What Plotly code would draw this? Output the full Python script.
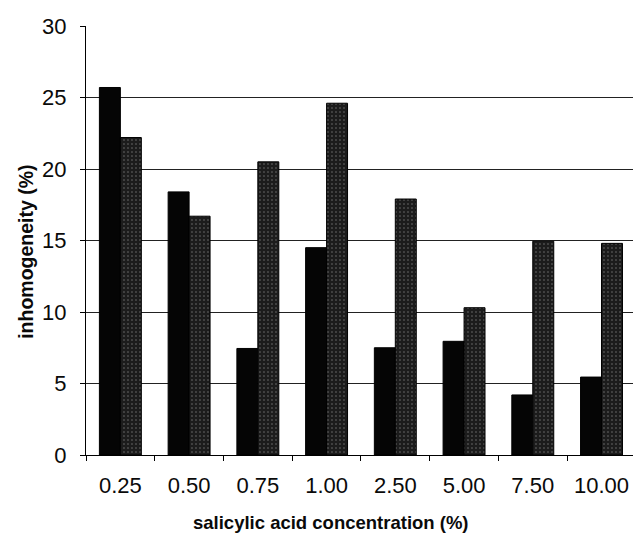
import plotly.graph_objects as go

# Salicylic acid concentration categories and measured inhomogeneity (%)
concentrations = ["0.25", "0.50", "0.75", "1.00", "2.50", "5.00", "7.50", "10.00"]
series_a = [25.7, 18.4, 7.45, 14.5, 7.5, 7.95, 4.2, 5.45]
series_b = [22.2, 16.7, 20.5, 24.6, 17.9, 10.3, 14.95, 14.8]
y_ticks = [0, 5, 10, 15, 20, 25, 30]

FONT = "Liberation Sans, Arial, sans-serif"

fig = go.Figure()
fig.add_trace(go.Bar(
    x=concentrations, y=series_a,
    marker=dict(color="#050505", line=dict(color="#000000", width=1)),
    showlegend=False,
))
fig.add_trace(go.Bar(
    x=concentrations, y=series_b,
    marker=dict(
        color="#1c1c1c",
        line=dict(color="#000000", width=1),
        pattern=dict(shape=".", fgcolor="#c8c8c8", bgcolor="#1c1c1c",
                     size=4, solidity=0.12, fillmode="overlay"),
    ),
    showlegend=False,
))

fig.update_layout(
    width=633, height=538,
    margin=dict(l=85.5, r=0, t=26, b=83),
    paper_bgcolor="white", plot_bgcolor="white",
    barmode="group", bargap=0.39, bargroupgap=0,
    font=dict(family=FONT, color="#0a0a0a"),
    xaxis=dict(
        type="category",
        range=[-0.5, 7.458],
        tickson="boundaries",
        ticks="outside", ticklen=5, tickcolor="#000000",
        showline=True, linecolor="#000000", linewidth=1,
        showgrid=False,
        tickfont=dict(size=22, family=FONT, color="#0a0a0a"),
        ticklabelstandoff=11,
    ),
    yaxis=dict(
        range=[0, 30],
        tickvals=y_ticks,
        ticks="outside", ticklen=5, tickcolor="#000000",
        showline=True, linecolor="#000000", linewidth=1,
        showgrid=True, gridcolor="#222222", gridwidth=1,
        zeroline=False,
        tickfont=dict(size=22, family=FONT, color="#0a0a0a"),
        ticklabelstandoff=9,
    ),
    annotations=[
        dict(text="<b>salicylic acid concentration (%)</b>",
             xref="paper", yref="paper", x=(331 - 85.5) / 547.5, y=-0.158,
             xanchor="center", yanchor="middle", showarrow=False,
             font=dict(size=18.5, family=FONT, color="#0a0a0a")),
        dict(text="<b>inhomogeneity (%)</b>",
             xref="paper", yref="paper", x=-0.11, y=(455 - 252) / 429,
             xanchor="center", yanchor="middle", showarrow=False, textangle=-90,
             font=dict(size=19.5, family=FONT, color="#0a0a0a")),
    ],
)

fig.write_html("out.html")
